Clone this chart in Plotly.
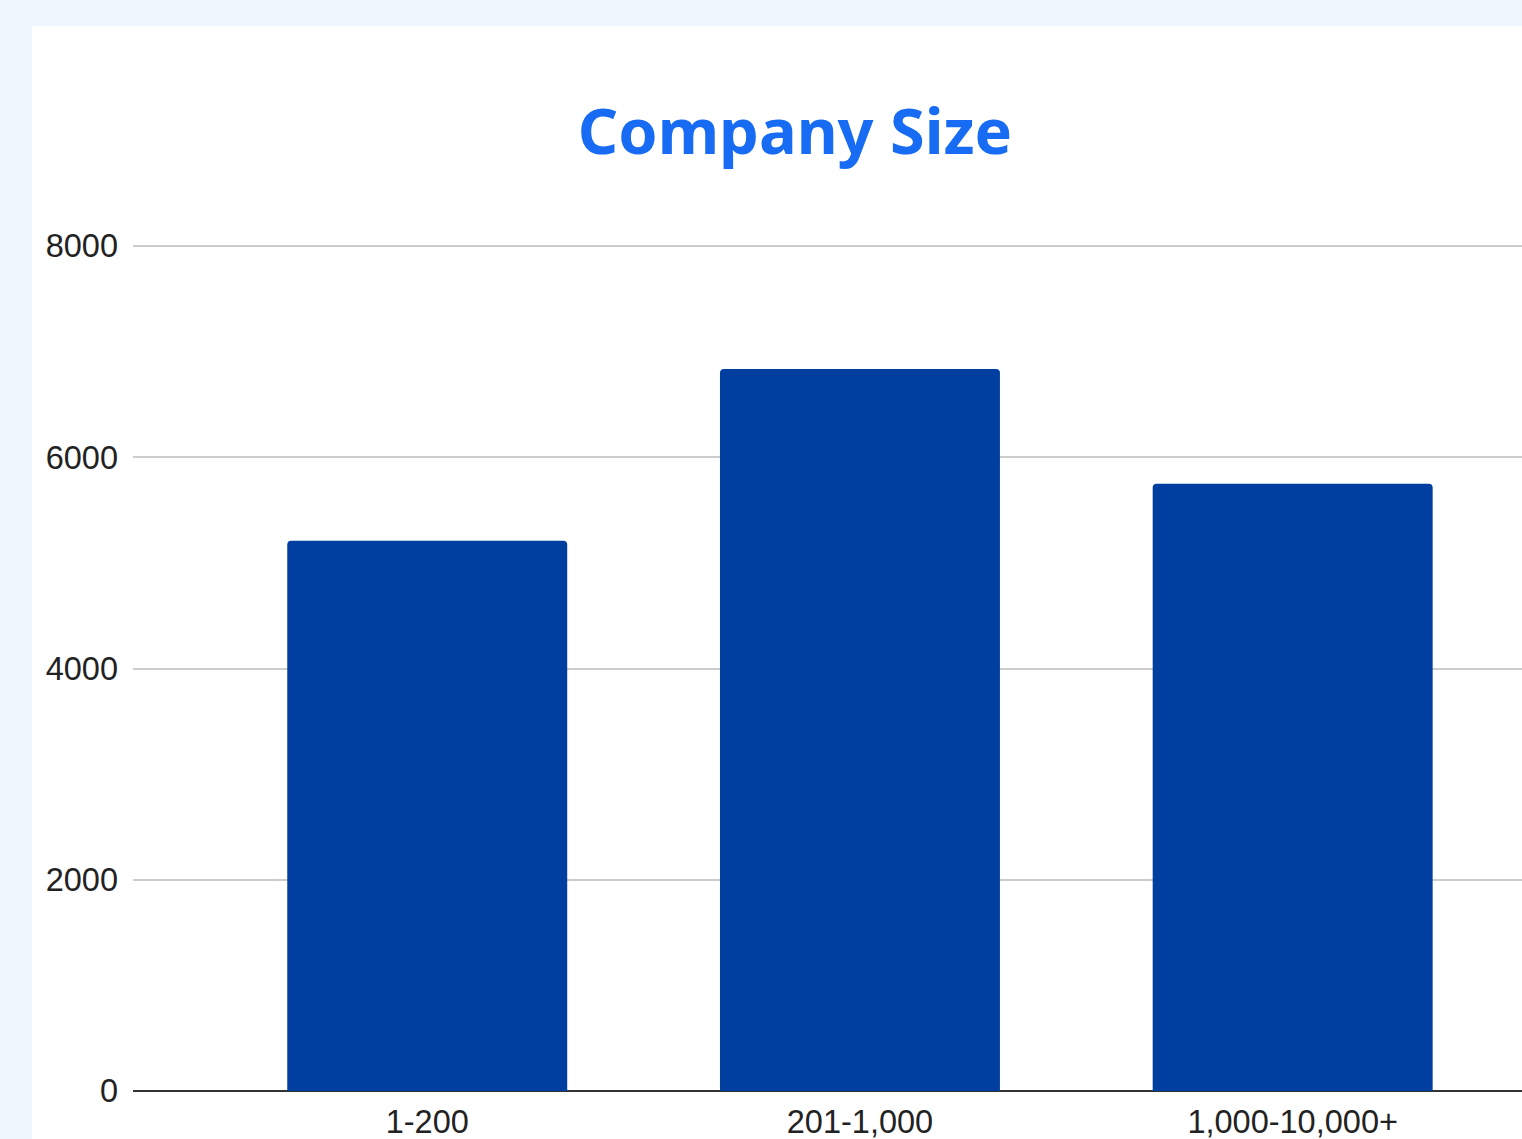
import plotly.graph_objects as go

categories = ["1-200", "201-1,000", "1,000-10,000+"]
values = [5210, 6835, 5750]
y_ticks = [0, 2000, 4000, 6000, 8000]

W, H = 1522, 1139

fig = go.Figure()
fig.add_trace(go.Bar(
    x=list(range(len(categories))),
    y=values,
    width=0.647,
    marker=dict(color="#003F9F", line=dict(width=0), cornerradius=4),
    hoverinfo="skip",
))

fig.update_layout(
    width=W, height=H,
    margin=dict(l=0, r=0, t=0, b=0, autoexpand=False),
    paper_bgcolor="#F0F6FE",
    plot_bgcolor="rgba(0,0,0,0)",
    showlegend=False,
    title=dict(
        text="<b>Company Size</b>",
        x=795 / W, xref="paper", xanchor="center",
        y=1 - 132 / H, yref="paper", yanchor="middle",
        font=dict(family="Noto Sans", size=63, color="#176CF3"),
    ),
    shapes=[dict(
        type="rect", xref="paper", yref="paper",
        x0=32 / W, x1=1.0, y0=0.0, y1=1 - 26 / H,
        fillcolor="white", line=dict(width=0), layer="below",
    )],
    xaxis=dict(
        domain=[133 / W, 1.0],
        range=[-0.68, 2.53],
        automargin=False,
        tickmode="array",
        tickvals=list(range(len(categories))),
        ticktext=categories,
        showgrid=False,
        zeroline=False,
        showline=False,
        ticks="",
        ticklabelstandoff=8,
        tickfont=dict(family="Liberation Sans, Arial", size=32.5, color="#222222"),
    ),
    yaxis=dict(
        domain=[(H - 1091) / H, (H - 236) / H],
        range=[0, 8095],
        automargin=False,
        tickmode="array",
        tickvals=y_ticks,
        ticktext=[str(v) for v in y_ticks],
        showgrid=True,
        gridcolor="#CCCCCC",
        gridwidth=2,
        zeroline=True,
        zerolinecolor="#333333",
        zerolinewidth=2,
        showline=False,
        ticks="",
        ticklabelstandoff=14,
        tickfont=dict(family="Liberation Sans, Arial", size=32.5, color="#222222"),
    ),
)

fig.write_html("out.html")
